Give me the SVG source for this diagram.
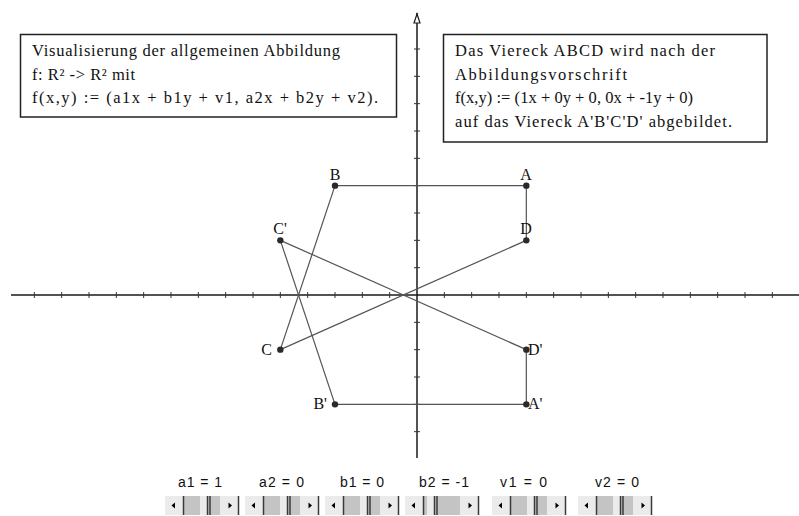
<svg xmlns="http://www.w3.org/2000/svg" xmlns:xlink="http://www.w3.org/1999/xlink" width="799" height="516" viewBox="0 0 799 516">
<style>
.box{fill:#fff;stroke:#222;stroke-width:1.5}
.bt{font-family:"Liberation Serif","Times New Roman",serif;font-size:16.5px;fill:#111}
.lbl{font-family:"Liberation Serif","Times New Roman",serif;font-size:16px;fill:#111}
.axis{stroke:#1a1a1a;stroke-width:1.5;fill:none}
.tick{stroke:#333;stroke-width:1;fill:none}
.edge{stroke:#555;stroke-width:1.2;fill:none}
.pt{fill:#2a2a2a}
.sl{font-family:"Liberation Sans",Arial,sans-serif;font-size:14px;fill:#111}
.dk{stroke:#3a3a3a;stroke-width:1.5}
</style>
<defs>
<g id="sb">
<rect x="0" y="0" width="74" height="19" fill="#c4c4c4"/>
<rect x="0" y="0" width="18" height="19" fill="#ebebeb"/>
<line x1="18.5" y1="0" x2="18.5" y2="19" class="dk"/>
<rect x="55" y="0" width="18" height="19" fill="#ebebeb"/>
<line x1="73.5" y1="0" x2="73.5" y2="19" class="dk"/>
<polygon points="6.5,9.5 10,6.5 10,12.5" fill="#000"/>
<polygon points="67,9.5 63.5,6.5 63.5,12.5" fill="#000"/>
</g>
</defs>
<rect width="799" height="516" fill="#fff"/>

<g id="axes">
<line x1="11" y1="295" x2="799" y2="295" class="axis"/>
<line x1="417" y1="13" x2="417" y2="458" class="axis"/>
<path d="M414,23 L417,14 L420,23 Z" fill="#fff" stroke="#1a1a1a" stroke-width="1.2"/>
<path class="tick" d="M34.33,292v6M61.67,292v6M89,292v6M116.33,292v6M143.67,292v6M171,292v6M198.33,292v6M225.67,292v6M253,292v6M280.33,292v6M307.67,292v6M335,292v6M362.33,292v6M389.67,292v6M444.33,292v6M471.67,292v6M499,292v6M526.33,292v6M553.67,292v6M581,292v6M608.33,292v6M635.67,292v6M663,292v6M690.33,292v6M717.67,292v6M745,292v6M772.33,292v6
M414,49h6M414,76.33h6M414,103.67h6M414,131h6M414,158.33h6M414,185.67h6M414,213h6M414,240.33h6M414,267.67h6M414,322.33h6M414,349.67h6M414,377h6M414,404.33h6M414,431.67h6"/>
</g>

<g id="box1">
<rect x="20.5" y="34.5" width="376" height="82.5" class="box"/>
<text class="bt" x="32" y="56" textLength="308" lengthAdjust="spacing">Visualisierung der allgemeinen Abbildung</text>
<text class="bt" x="32" y="80" textLength="103" lengthAdjust="spacing">f: R² -&gt; R² mit</text>
<text class="bt" x="32" y="103" textLength="346" lengthAdjust="spacing">f(x,y) := (a1x + b1y + v1, a2x + b2y + v2).</text>
</g>

<g id="box2">
<rect x="443.5" y="34.5" width="323.5" height="107.5" class="box"/>
<text class="bt" x="455" y="56" textLength="260" lengthAdjust="spacing">Das Viereck ABCD wird nach der</text>
<text class="bt" x="455" y="80" textLength="172" lengthAdjust="spacing">Abbildungsvorschrift</text>
<text class="bt" x="455" y="103" textLength="238" lengthAdjust="spacing">f(x,y) := (1x + 0y + 0, 0x + -1y + 0)</text>
<text class="bt" x="455" y="127" textLength="277" lengthAdjust="spacing">auf das Viereck A'B'C'D' abgebildet.</text>
</g>

<g id="connectors">
<line x1="526.33" y1="185.67" x2="335" y2="185.67" class="edge"/>
<line x1="335" y1="185.67" x2="280.33" y2="349.67" class="edge"/>
<line x1="280.33" y1="349.67" x2="526.33" y2="240.33" class="edge"/>
<line x1="526.33" y1="240.33" x2="526.33" y2="185.67" class="edge"/>
<line x1="526.33" y1="404.33" x2="335" y2="404.33" class="edge"/>
<line x1="335" y1="404.33" x2="280.33" y2="240.33" class="edge"/>
<line x1="280.33" y1="240.33" x2="526.33" y2="349.67" class="edge"/>
<line x1="526.33" y1="349.67" x2="526.33" y2="404.33" class="edge"/>
</g>

<g id="A"><circle cx="526.33" cy="185.67" r="3.2" class="pt"/><text class="lbl" x="526" y="180" text-anchor="middle">A</text></g>
<g id="B"><circle cx="335" cy="185.67" r="3.2" class="pt"/><text class="lbl" x="335" y="180" text-anchor="middle">B</text></g>
<g id="C"><circle cx="280.33" cy="349.67" r="3.2" class="pt"/><text class="lbl" x="272" y="355" text-anchor="end">C</text></g>
<g id="D"><circle cx="526.33" cy="240.33" r="3.2" class="pt"/><text class="lbl" x="526" y="234" text-anchor="middle">D</text></g>
<g id="A1"><circle cx="526.33" cy="404.33" r="3.2" class="pt"/><text class="lbl" x="528" y="409">A'</text></g>
<g id="B1"><circle cx="335" cy="404.33" r="3.2" class="pt"/><text class="lbl" x="327" y="409" text-anchor="end">B'</text></g>
<g id="C1"><circle cx="280.33" cy="240.33" r="3.2" class="pt"/><text class="lbl" x="280" y="234" text-anchor="middle">C'</text></g>
<g id="D1"><circle cx="526.33" cy="349.67" r="3.2" class="pt"/><text class="lbl" x="528" y="355">D'</text></g>

<g id="slider-a1">
<text class="sl" x="178" y="487" textLength="44" lengthAdjust="spacing">a1 = 1</text>
<use xlink:href="#sb" x="165" y="496"/>
<rect x="200" y="496" width="7" height="19" fill="#ebebeb"/><line x1="207.5" y1="496" x2="207.5" y2="515" class="dk"/><line x1="210" y1="496" x2="210" y2="515" class="dk"/>
</g>
<g id="slider-a2">
<text class="sl" x="259" y="487" textLength="45" lengthAdjust="spacing">a2 = 0</text>
<use xlink:href="#sb" x="245" y="496"/>
<rect x="280" y="496" width="7" height="19" fill="#ebebeb"/><line x1="287.5" y1="496" x2="287.5" y2="515" class="dk"/><line x1="290" y1="496" x2="290" y2="515" class="dk"/>
</g>
<g id="slider-b1">
<text class="sl" x="340" y="487" textLength="44" lengthAdjust="spacing">b1 = 0</text>
<use xlink:href="#sb" x="325" y="496"/>
<rect x="360" y="496" width="7" height="19" fill="#ebebeb"/><line x1="367.5" y1="496" x2="367.5" y2="515" class="dk"/><line x1="370" y1="496" x2="370" y2="515" class="dk"/>
</g>
<g id="slider-b2">
<text class="sl" x="419" y="487" textLength="50" lengthAdjust="spacing">b2 = -1</text>
<use xlink:href="#sb" x="405" y="496"/>
<rect x="427" y="496" width="7" height="19" fill="#ebebeb"/><line x1="434.5" y1="496" x2="434.5" y2="515" class="dk"/><line x1="437" y1="496" x2="437" y2="515" class="dk"/>
</g>
<g id="slider-v1">
<text class="sl" x="500" y="487" textLength="47" lengthAdjust="spacing">v1 = 0</text>
<use xlink:href="#sb" x="492" y="496"/>
<rect x="527" y="496" width="7" height="19" fill="#ebebeb"/><line x1="534.5" y1="496" x2="534.5" y2="515" class="dk"/><line x1="537" y1="496" x2="537" y2="515" class="dk"/>
</g>
<g id="slider-v2">
<text class="sl" x="595" y="487" textLength="44" lengthAdjust="spacing">v2 = 0</text>
<use xlink:href="#sb" x="578" y="496"/>
<rect x="613" y="496" width="7" height="19" fill="#ebebeb"/><line x1="620.5" y1="496" x2="620.5" y2="515" class="dk"/><line x1="623" y1="496" x2="623" y2="515" class="dk"/>
</g>
</svg>
